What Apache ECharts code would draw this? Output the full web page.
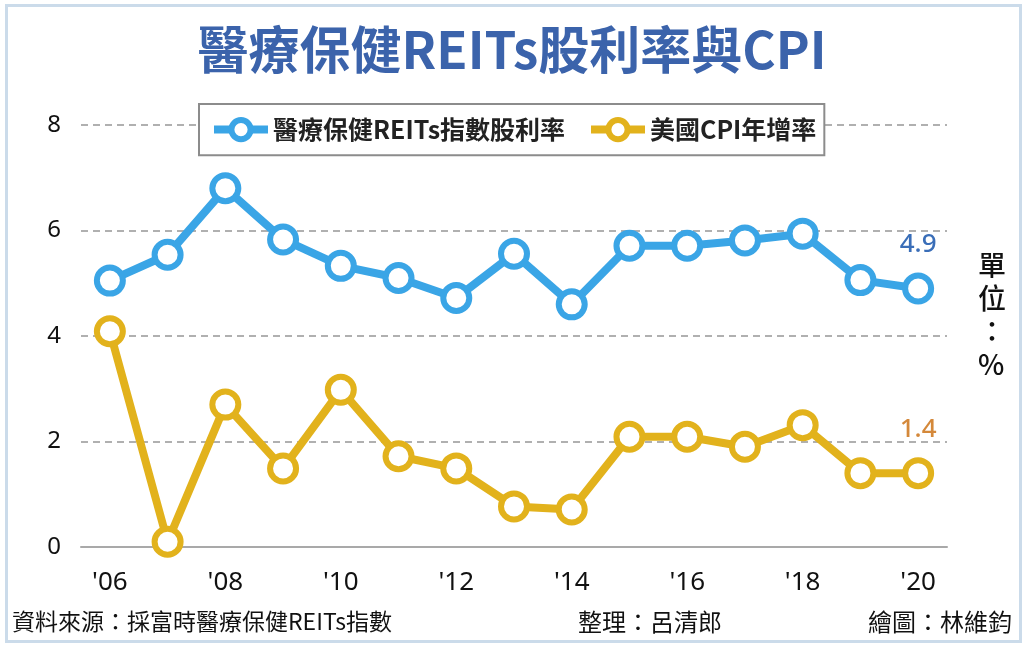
<!DOCTYPE html>
<html>
<head>
<meta charset="utf-8">
<script src="https://cdn.jsdelivr.net/npm/echarts@6/dist/echarts.min.js"></script>
<style>
html,body{margin:0;padding:0;background:#fff;}
#c{width:1024px;height:648px;}
</style>
</head>
<body>
<div id="c"></div>
<script>
var years = ['2006','2007','2008','2009','2010','2011','2012','2013','2014','2015','2016','2017','2018','2019','2020'];
var reitsYield = [5.05, 5.54, 6.8, 5.83, 5.33, 5.1, 4.72, 5.56, 4.6, 5.71, 5.71, 5.81, 5.94, 5.06, 4.9];
var cpiGrowth = [4.09, 0.1, 2.7, 1.49, 2.98, 1.72, 1.49, 0.77, 0.71, 2.09, 2.09, 1.9, 2.31, 1.4, 1.4];
var seriesNames = ['醫療保健REITs指數股利率', '美國CPI年增率'];
var titleText = '醫療保健REITs股利率與CPI';
var unitText = '單\n位\n：\n%';
var sourceText = '資料來源：採富時醫療保健REITs指數';
var editorText = '整理：呂清郎';
var artistText = '繪圖：林維鈞';

var BLUE = '#3aa5e6', GOLD = '#e2b21c';
var FONT = '"Noto Sans CJK TC","Noto Sans",sans-serif';

function lastLabel(color) {
  return {
    show: true, position: 'top', distance: 15,
    fontSize: 26, fontWeight: 500, fontFamily: '"Noto Sans",sans-serif', color: color,
    formatter: function (p) { return p.dataIndex === years.length - 1 ? p.value.toFixed(1) : ''; }
  };
}

var chart = echarts.init(document.getElementById('c'));
chart.setOption({
  backgroundColor: '#fff',
  animation: false,
  title: {
    text: titleText, left: 'center', top: 19,
    textStyle: { fontSize: 51, fontWeight: 'bold', color: '#3b63ab', fontFamily: FONT }
  },
  legend: {
    data: seriesNames,
    left: 199, top: 104,
    padding: [13, 8, 13, 11],
    itemGap: 22, itemWidth: 54, itemHeight: 24,
    backgroundColor: '#fff', borderColor: '#8c8c8c', borderWidth: 2,
    itemStyle: { color: '#fff', borderWidth: 6 },
    lineStyle: { width: 8 },
    textStyle: { fontSize: 25, color: '#222', fontFamily: FONT, fontWeight: 'bold' }
  },
  grid: { left: 81, right: 77, top: 125, bottom: 101 },
  xAxis: {
    type: 'category', data: years, boundaryGap: true,
    axisLine: { lineStyle: { color: '#a9a9a9', width: 2 } },
    axisTick: { inside: true, length: 9, interval: 0, lineStyle: { color: '#a9a9a9', width: 2 } },
    axisLabel: {
      interval: 1, margin: 23, fontSize: 26, color: '#111', fontFamily: '"Noto Sans",sans-serif',
      formatter: function (v) { return "'" + v.slice(2); }
    }
  },
  yAxis: {
    type: 'value', min: 0, max: 8, interval: 2,
    axisLine: { show: false }, axisTick: { show: false },
    axisLabel: { margin: 20, fontSize: 24, color: '#111', fontFamily: '"Noto Sans",sans-serif' },
    splitLine: { lineStyle: { color: '#b0b0b0', width: 2, type: [7, 5] } }
  },
  series: [
    {
      name: seriesNames[0], type: 'line', data: reitsYield,
      symbol: 'circle', symbolSize: 26,
      lineStyle: { color: BLUE, width: 8 },
      itemStyle: { color: '#fff', borderColor: BLUE, borderWidth: 6 },
      label: lastLabel('#3a6eb8'), z: 3
    },
    {
      name: seriesNames[1], type: 'line', data: cpiGrowth,
      symbol: 'circle', symbolSize: 26,
      lineStyle: { color: GOLD, width: 8 },
      itemStyle: { color: '#fff', borderColor: GOLD, borderWidth: 6 },
      label: lastLabel('#d4883a'), z: 2
    }
  ],
  graphic: [
    { type: 'rect', left: 4, top: 3, z: -10, silent: true,
      shape: { width: 1014, height: 636 },
      style: { fill: 'none', stroke: '#cbdbea', lineWidth: 3 } },
    { type: 'text', left: 978, top: 249,
      style: { text: unitText, fontSize: 28, fontWeight: 500, lineHeight: 33, fill: '#111', fontFamily: FONT, align: 'center' } },
    { type: 'text', left: 12, top: 610,
      style: { text: sourceText, fontSize: 23, fill: '#111', fontFamily: FONT } },
    { type: 'text', left: 578, top: 610,
      style: { text: editorText, fontSize: 24, fill: '#111', fontFamily: FONT } },
    { type: 'text', right: 12, top: 610,
      style: { text: artistText, fontSize: 24, fill: '#111', fontFamily: FONT } }
  ]
});
</script>
</body>
</html>
